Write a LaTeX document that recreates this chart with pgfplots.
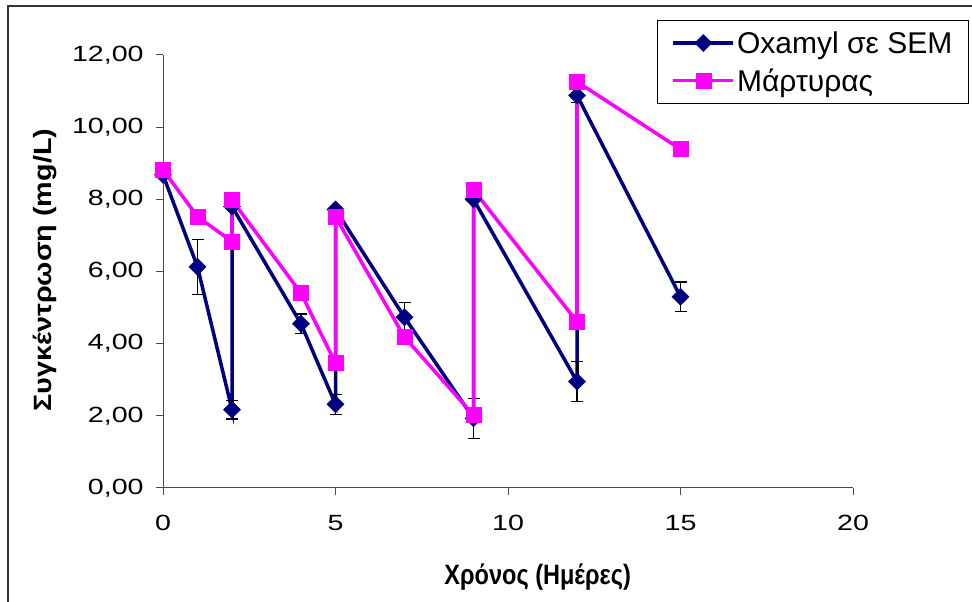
\documentclass[border=0pt]{standalone}
\usepackage{fontspec}
\setmainfont{Liberation Sans}
\usepackage{pgfplots}
\usepackage{pgfplotstable}
\pgfplotsset{compat=1.18}
\definecolor{oxnavy}{RGB}{0,0,128}
\definecolor{mag}{RGB}{255,0,255}

\pgfplotstableread{
x y err
0 8.68 0.08
1 6.13 0.76
2 2.17 0.26
2 7.80 0.06
4 4.55 0.27
5 2.32 0.28
5 7.72 0.09
7 4.73 0.42
9 1.93 0.55
9 8.00 0.06
12 2.95 0.55
12 10.88 0.20
15 5.30 0.41
}\oxamyl

\pgfplotstableread{
x y
0 8.82
1 7.52
2 6.83
2 7.98
4 5.40
5 3.46
5 7.52
7 4.18
9 2.02
9 8.26
12 4.61
12 11.26
15 9.39
}\martyras

\begin{document}
\begin{tikzpicture}[x=1bp,y=1bp]
\useasboundingbox (0,0) rectangle (972,602);
\draw[line width=1.3bp, black!80] (8,0) -- (8,596) -- (972,596);
\begin{axis}[
  at={(163bp,114bp)}, anchor=south west,
  scale only axis, width=690bp, height=433bp,
  xmin=0, xmax=20, ymin=0, ymax=12,
  xtick={0,5,...,20}, ytick={0,2,...,12},
  axis x line*=bottom, axis y line*=left,
  axis line style={black!70, line width=1bp},
  tick align=outside, major tick length=7bp,
  tick style={black!70, line width=1bp},
  /pgf/number format/assume math mode=true,
  yticklabel={\pgfmathprintnumber[fixed, fixed zerofill, precision=2, use comma]{\tick}},
  ticklabel style={font=\fontsize{22bp}{26bp}\selectfont, xscale=1.3},
  yticklabel style={xshift=-6bp},
  xticklabel style={yshift=-17bp},
  xlabel={\textbf{Χρόνος (Ημέρες)}},
  ylabel={\textbf{Συγκέντρωση (mg/L)}},
  xlabel style={font=\fontsize{28bp}{32bp}\selectfont, at={(axis description cs:0.543,-0.2055)}, anchor=center, xscale=0.84},
  ylabel style={font=\fontsize{25bp}{30bp}\selectfont, at={(axis description cs:-0.171,0.503)}, anchor=center, rotate=0, xscale=1.15},
  legend cell align=left,
  legend style={at={(0.716,1.081)}, anchor=north west, draw=black, line width=1bp,
    font=\fontsize{30bp}{36bp}\selectfont, inner xsep=14bp, inner ysep=9bp, row sep=10bp},
  legend image code/.code={
    \draw[mark repeat=2,mark phase=2,#1] plot coordinates {(0bp,0bp) (30bp,0bp) (60bp,0bp)};
  },
  clip=false,
]
\addplot[oxnavy, line width=3.5bp, mark=square*, mark size=6bp,
  mark options={rotate=45, solid, fill=oxnavy, line width=0.5bp},
  error bars/.cd, y dir=both, y explicit,
  error bar style={black, line width=1.3bp},
  error mark options={black, line width=1.3bp, rotate=90, mark size=6bp}]
  table[x=x, y=y, y error=err] {\oxamyl};
\addlegendentry{Oxamyl σε SEM}
\addplot[mag, line width=3.5bp, mark=square*, mark size=7.5bp,
  mark options={solid, fill=mag, line width=0.5bp}]
  table[x=x, y=y] {\martyras};
\addlegendentry{Μάρτυρας}
\end{axis}
\end{tikzpicture}
\end{document}
